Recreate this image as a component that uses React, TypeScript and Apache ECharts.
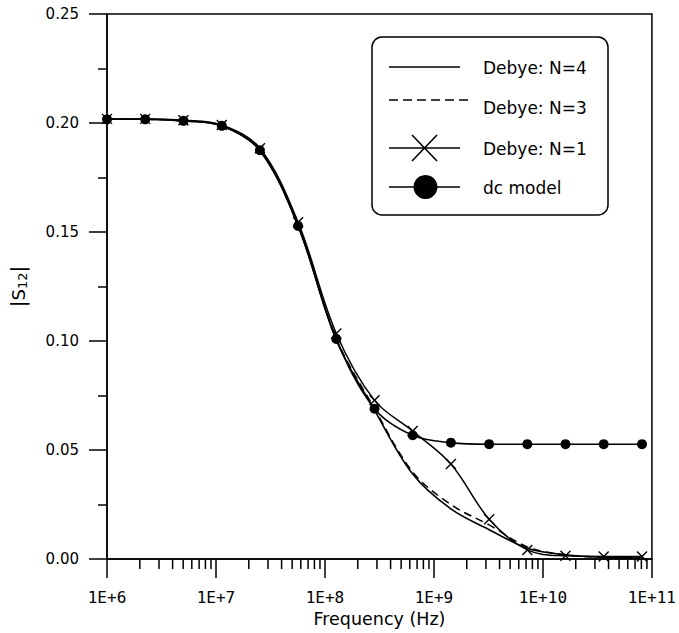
import React, { useEffect, useRef } from "react";
import * as echarts from "echarts";

// Frequencies (Hz) of the computed points
const freqs = [1e6, 2.24e6, 5.03e6, 1.13e7, 2.53e7, 5.67e7, 1.27e8, 2.85e8, 6.38e8, 1.43e9, 3.21e9, 7.19e9, 1.61e10, 3.61e10, 8.11e10];

const debyeN4 = [0.2017, 0.2017, 0.201, 0.1987, 0.1873, 0.1527, 0.1005, 0.0683, 0.039, 0.023, 0.0135, 0.005, 0.002, 0.0008, 0.0005];
const debyeN3 = [0.2017, 0.2017, 0.201, 0.1987, 0.1876, 0.1532, 0.1012, 0.069, 0.04, 0.025, 0.0157, 0.0056, 0.002, 0.0009, 0.0006];
const debyeN1 = [0.2019, 0.2019, 0.2013, 0.1991, 0.1884, 0.1545, 0.1035, 0.0728, 0.0587, 0.0436, 0.0183, 0.0042, 0.0015, 0.0012, 0.0012];
const dcModel = [0.2017, 0.2017, 0.201, 0.1987, 0.1875, 0.1528, 0.101, 0.069, 0.0568, 0.0534, 0.0527, 0.0527, 0.0527, 0.0527, 0.0527];

const xTickValues = [1e6, 1e7, 1e8, 1e9, 1e10, 1e11];
const xTickLabels = ["1E+6", "1E+7", "1E+8", "1E+9", "1E+10", "1E+11"];
const yTickLabels = ["0.00", "0.05", "0.10", "0.15", "0.20", "0.25"];
const minorMantissas = [2, 3, 4, 5, 6, 7, 8, 9];
const minorDecades = [1e6, 1e7, 1e8, 1e9, 1e10];

const legendNames = ["Debye: N=4", "Debye: N=3", "Debye: N=1", "dc model"];

export default function App() {
  const ref = useRef<HTMLDivElement>(null);
  useEffect(() => {
    document.body.style.margin = "0";
    const chart = echarts.init(ref.current!, null, { renderer: "svg" });
    const minorTicks: number[][] = [];
    minorDecades.forEach((d) => minorMantissas.forEach((m) => minorTicks.push([m * d, 0])));

    const pairs = (ys: number[]) => freqs.map((f, i) => [f, ys[i]]);
    const black = "#000";
    const lx1 = 389, lx2 = 460, ltx = 483;
    const rows = [67, 107, 148, 187];

    const option: any = {
      animation: false,
      backgroundColor: "#fff",
      grid: { left: 104, right: 25, top: 14, bottom: 72, show: true, borderColor: black, borderWidth: 1.5, backgroundColor: "transparent" },
      xAxis: {
        type: "log",
        logBase: 10,
        min: 1e6,
        max: 1e11,
        name: "Frequency (Hz)",
        nameLocation: "middle",
        nameGap: 50,
        nameTextStyle: { fontFamily: "DejaVu Sans", fontSize: 17.5, color: black },
        axisLine: { show: true, lineStyle: { color: black, width: 1.5 } },
        axisTick: { show: true, length: 19, lineStyle: { color: black, width: 1.5 } },
        minorTick: { show: false },
        splitLine: { show: false },
        axisLabel: {
          margin: 30,
          fontFamily: "DejaVu Sans Mono",
          fontSize: 16,
          color: black,
          formatter: (v: number) => {
            const i = xTickValues.findIndex((t) => Math.abs(Math.log10(t) - Math.log10(v)) < 1e-6);
            return i >= 0 ? xTickLabels[i] : "";
          },
        },
      },
      yAxis: {
        type: "value",
        min: 0,
        max: 0.25,
        interval: 0.05,
        name: "{b||}{m|S}{s|12}{b||}",
        nameLocation: "middle",
        nameGap: 78,
        nameRotate: 90,
        nameTextStyle: {
          fontFamily: "DejaVu Sans",
          fontSize: 18,
          color: black,
          rich: {
            b: { fontFamily: "DejaVu Sans", fontSize: 20, color: black },
            m: { fontFamily: "DejaVu Sans", fontSize: 18, color: black },
            s: { fontFamily: "DejaVu Sans", fontSize: 13, color: black, padding: [9, 0, 0, 0] },
          },
        },
        axisLine: { show: true, lineStyle: { color: black, width: 1.5 } },
        axisTick: { show: true, length: 18, lineStyle: { color: black, width: 1.5 } },
        minorTick: { show: true, splitNumber: 2, length: 9, lineStyle: { color: black, width: 1.5 } },
        splitLine: { show: false },
        axisLabel: {
          margin: 28,
          fontFamily: "DejaVu Sans",
          fontSize: 15,
          color: black,
          formatter: (v: number) => yTickLabels[Math.round(v / 0.05)] ?? "",
        },
      },
      series: [
        {
          name: legendNames[0],
          type: "line",
          data: pairs(debyeN4),
          smooth: 0.35,
          symbol: "none",
          lineStyle: { color: black, width: 1.6 },
          silent: true,
        },
        {
          name: legendNames[1],
          type: "line",
          data: pairs(debyeN3),
          smooth: 0.35,
          symbol: "none",
          lineStyle: { color: black, width: 1.5, type: [8, 5] },
          silent: true,
        },
        {
          name: legendNames[2],
          type: "line",
          data: pairs(debyeN1),
          smooth: 0.35,
          symbol: "none",
          lineStyle: { color: black, width: 1.5 },
          silent: true,
        },
        {
          name: legendNames[3],
          type: "line",
          data: pairs(dcModel),
          smooth: 0.35,
          symbol: "circle",
          symbolSize: 10,
          showAllSymbol: true,
          clip: false,
          itemStyle: { color: black },
          lineStyle: { color: black, width: 1.6 },
          silent: true,
        },
        {
          name: "N1 markers",
          type: "custom",
          data: pairs(debyeN1),
          silent: true,
          clip: false,
          renderItem: (params: any, api: any) => {
            const p = api.coord([api.value(0), api.value(1)]);
            const h = 5;
            return {
              type: "group",
              children: [
                { type: "line", shape: { x1: p[0] - h, y1: p[1] - h, x2: p[0] + h, y2: p[1] + h }, style: { stroke: black, lineWidth: 1.4 } },
                { type: "line", shape: { x1: p[0] - h, y1: p[1] + h, x2: p[0] + h, y2: p[1] - h }, style: { stroke: black, lineWidth: 1.4 } },
              ],
            };
          },
        },
        {
          name: "minor ticks",
          type: "custom",
          data: minorTicks,
          silent: true,
          clip: false,
          renderItem: (params: any, api: any) => {
            const p = api.coord([api.value(0), 0]);
            return { type: "line", shape: { x1: p[0], y1: p[1], x2: p[0], y2: p[1] + 10 }, style: { stroke: black, lineWidth: 1.5 } };
          },
        },
      ],
      graphic: [
        {
          type: "group",
          silent: true,
          children: [
            { type: "rect", shape: { x: 372, y: 37, width: 236, height: 178, r: 10 }, style: { fill: "#fff", stroke: black, lineWidth: 1.5 } },
            { type: "line", shape: { x1: lx1, y1: rows[0], x2: lx2, y2: rows[0] }, style: { stroke: black, lineWidth: 1.5 } },
            { type: "line", shape: { x1: lx1, y1: rows[1] - 7, x2: lx2 + 8, y2: rows[1] - 7 }, style: { stroke: black, lineWidth: 1.5, lineDash: [9, 5] } },
            { type: "line", shape: { x1: lx1, y1: rows[2], x2: lx2, y2: rows[2] }, style: { stroke: black, lineWidth: 1.5 } },
            { type: "line", shape: { x1: 412, y1: rows[2] - 13, x2: 437, y2: rows[2] + 13 }, style: { stroke: black, lineWidth: 1.6 } },
            { type: "line", shape: { x1: 412, y1: rows[2] + 13, x2: 437, y2: rows[2] - 13 }, style: { stroke: black, lineWidth: 1.6 } },
            { type: "line", shape: { x1: lx1, y1: rows[3], x2: lx2, y2: rows[3] }, style: { stroke: black, lineWidth: 1.5 } },
            { type: "circle", shape: { cx: 425.5, cy: rows[3], r: 12 }, style: { fill: black } },
            ...legendNames.map((n, i) => ({
              type: "text",
              x: ltx,
              y: rows[i] + 1,
              style: { text: n, fill: black, font: "17px 'DejaVu Sans'", verticalAlign: "middle", align: "left" },
            })),
          ],
        },
      ],
    };
    chart.setOption(option);
    return () => chart.dispose();
  }, []);
  return <div ref={ref} style={{ width: 679, height: 633 }} />;
}
